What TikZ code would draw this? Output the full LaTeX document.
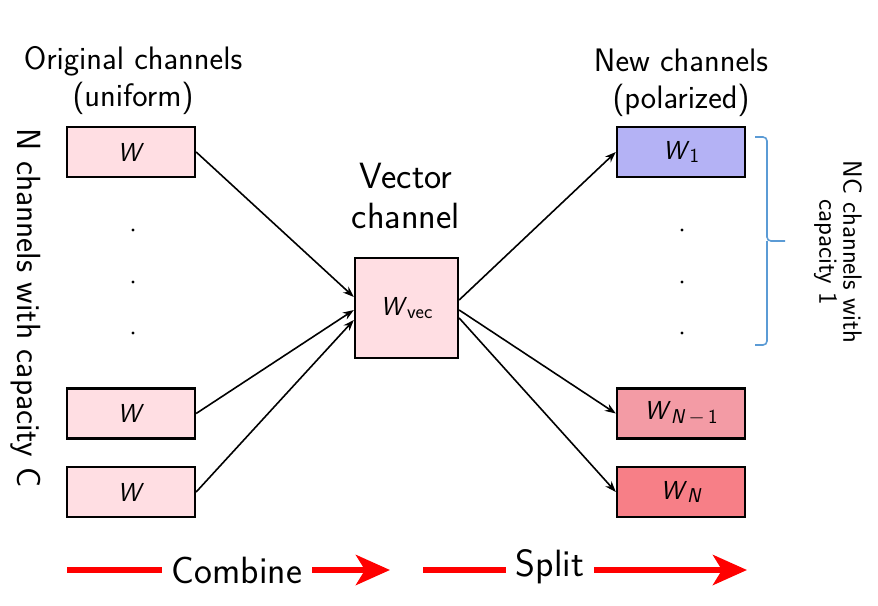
\documentclass[tikz,border=0pt]{standalone}
\usetikzlibrary{arrows.meta}
\definecolor{pinkL}{RGB}{255,222,227}
\definecolor{blueP}{RGB}{180,178,245}
\definecolor{pinkM}{RGB}{243,155,165}
\definecolor{pinkD}{RGB}{247,127,135}
\definecolor{braceblue}{RGB}{91,155,213}
\newcommand\mysub[1]{\raisebox{-0.3ex}{\fontsize{20}{22}\selectfont #1}}
\begin{document}
\begin{tikzpicture}[x=1pt,y=-1pt,
  chan/.style={draw=black, line width=2.3pt, minimum width=128pt, minimum height=50pt, inner sep=0pt, font=\fontsize{26}{30}\selectfont\sffamily},
  conn/.style={-{Stealth[length=11pt,width=8pt]}, line width=1.6pt},
  bigarrow/.style={red, line width=6pt, -{Stealth[length=34pt,width=30pt,inset=9pt]}},
  redline/.style={red, line width=6pt},
  title/.style={align=center, font=\fontsize{32.5}{37}\selectfont\sffamily},
  side/.style={align=center, font=\fontsize{33.5}{36}\selectfont\sffamily},
  sideR/.style={align=center, font=\fontsize{26.5}{24}\selectfont\sffamily},
  bottomtxt/.style={font=\fontsize{38}{42}\selectfont\sffamily, inner sep=10pt},
  dot/.style={circle, fill=black, inner sep=0pt, minimum size=3.4pt}]
\useasboundingbox (0,0) rectangle (878,605);
% titles
\node[title] (t1) at (133,81) {Original channels\\(uniform)};
\node[title] (t2) at (681,83) {New channels\\(polarized)};
\node[title, font=\fontsize{36.5}{40}\selectfont\sffamily] (t3) at (406,196) {Vector\\channel};
% left boxes
\node[chan, fill=pinkL] (l1) at (131,152) {\textit{W}};
\node[chan, fill=pinkL] (l2) at (131,413.5) {\textit{W}};
\node[chan, fill=pinkL] (l3) at (131,492) {\textit{W}};
\node[dot] (ld1) at (133,230) {};
\node[dot] (ld2) at (133,282) {};
\node[dot] (ld3) at (133,333) {};
% vector
\node[chan, fill=pinkL, minimum width=103pt, minimum height=100pt] (v) at (406.5,308) {\textit{W}\mysub{vec}};
% right boxes
\node[chan, fill=blueP] (r1) at (681,152) {\textit{W}\mysub{1}};
\node[chan, fill=pinkM] (r2) at (681,413.5) {\textit{W}\mysub{\textit{N}\,$-$\,1}};
\node[chan, fill=pinkD] (r3) at (681,492) {\textit{W}\mysub{\textit{N}}};
\node[dot] (rd1) at (682,230) {};
\node[dot] (rd2) at (682,282) {};
\node[dot] (rd3) at (682,333) {};
% connectors
\draw[conn] (l1.east) -- ([yshift=11pt]v.west);
\draw[conn] (l2.east) -- ([yshift=-2pt]v.west);
\draw[conn] (l3.east) -- ([yshift=-12pt]v.west);
\draw[conn] ([yshift=8pt]v.east) -- (r1.west);
\draw[conn] ([yshift=-2pt]v.east) -- (r2.west);
\draw[conn] ([yshift=-10pt]v.east) -- (r3.west);
% brace
\coordinate (b1) at (755,137);
\coordinate (b2) at (755,345);
\coordinate (bm) at (785,241);
\draw[braceblue, line width=1.6pt, rounded corners=4pt] (b1) -- (767,137) -- (767,241) -- (bm);
\draw[braceblue, line width=1.6pt, rounded corners=4pt] (b2) -- (767,345) -- (767,241);
\node[sideR, rotate=-90] (nc) at (838,252) {NC channels with\\capacity 1};
\node[side, rotate=-90] (nch) at (26,308) {N channels with capacity C};
% bottom arrows
\node[bottomtxt] (comb) at (237,570) {Combine};
\node[bottomtxt] (spl) at (550,567) {Split};
\coordinate (a0) at (67,570);
\coordinate (a1) at (390,570);
\coordinate (a2) at (423,570);
\coordinate (a3) at (747,570);
\draw[redline] (a0) -- (comb.west |- a0);
\draw[bigarrow] (comb.east |- a0) -- (a1);
\draw[redline] (a2) -- (spl.west |- a2);
\draw[bigarrow] (spl.east |- a2) -- (a3);
\end{tikzpicture}
\end{document}
